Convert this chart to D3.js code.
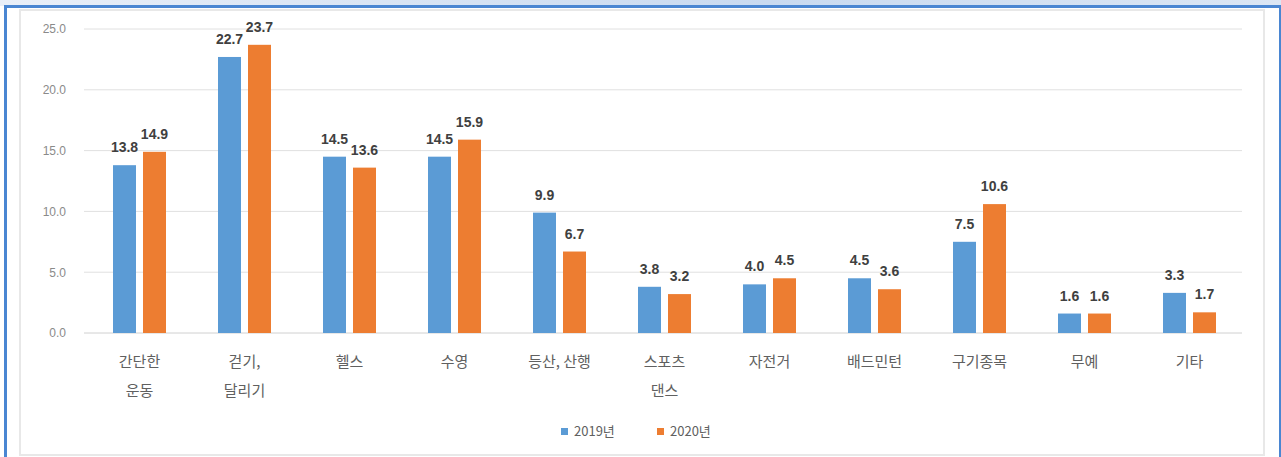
<!DOCTYPE html>
<html>
<head>
<meta charset="utf-8">
<script src="https://cdn.jsdelivr.net/npm/d3@7"></script>
<style>
  html, body { margin: 0; padding: 0; background: #fff; }
  svg { display: block; }
</style>
</head>
<body>
<svg id="chart" width="1281" height="457"></svg>
<script>
const categories = [["간단한","운동"],["걷기,","달리기"],["헬스"],["수영"],["등산, 산행"],["스포츠","댄스"],["자전거"],["배드민턴"],["구기종목"],["무예"],["기타"]];
const seriesNames = ["2019년","2020년"];
const values2019 = [13.8, 22.7, 14.5, 14.5, 9.9, 3.8, 4.0, 4.5, 7.5, 1.6, 3.3];
const values2020 = [14.9, 23.7, 13.6, 15.9, 6.7, 3.2, 4.5, 3.6, 10.6, 1.6, 1.7];
const yTicks = [0, 5, 10, 15, 20, 25];
const colors = ["#5B9BD5", "#ED7D31"];

const svg = d3.select("#chart");
const W = 1281, H = 457;

// frame
const defs = svg.append("defs");
const grad = defs.append("linearGradient").attr("id","topg").attr("x1","0").attr("x2","1");
grad.append("stop").attr("offset","0").attr("stop-color","#e9eff8");
grad.append("stop").attr("offset","0.6").attr("stop-color","#c9daf0");
grad.append("stop").attr("offset","1").attr("stop-color","#dbe6f4");
svg.append("rect").attr("x",0).attr("y",0).attr("width",W).attr("height",6).attr("fill","url(#topg)");
svg.append("rect").attr("x",4).attr("y",5).attr("width",W-4).attr("height",3).attr("fill","#4a86d2");
svg.append("rect").attr("x",4).attr("y",5).attr("width",3).attr("height",H-5).attr("fill","#4a86d2");
svg.append("rect").attr("x",W-2).attr("y",5).attr("width",2).attr("height",H-5).attr("fill","#4a86d2");
svg.append("rect").attr("x",20).attr("y",10).attr("width",1244).attr("height",445)
  .attr("fill","none").attr("stroke","#e8e8e8").attr("stroke-width",2);

const x0 = d3.scaleBand().domain(d3.range(categories.length)).range([87, 1242]);
const x1 = d3.scaleBand().domain(seriesNames).range([0, x0.bandwidth()])
  .paddingInner(7/30).paddingOuter(0.867);
const y = d3.scaleLinear().domain([0, 25]).range([333, 29]);

// gridlines
svg.append("g").selectAll("line").data(yTicks).join("line")
  .attr("x1", 84).attr("x2", 1242)
  .attr("y1", d => y(d)).attr("y2", d => y(d))
  .attr("stroke", d => d === 0 ? "#d0d0d0" : "#e0e0e0").attr("stroke-width", 1);

// y axis
const yAxis = d3.axisLeft(y).tickValues(yTicks).tickFormat(d3.format(".1f")).tickSize(0).tickPadding(0);
const ya = svg.append("g").attr("transform","translate(66,0)").call(yAxis);
ya.select(".domain").remove();
ya.selectAll("text").attr("font-family","Liberation Sans, Arial, sans-serif")
  .attr("font-size", 12).attr("fill","#8a8a8a");

// bars
const rows = categories.map((c,i) => ({i, vals: [values2019[i], values2020[i]]}));
const groups = svg.append("g").selectAll("g").data(rows).join("g")
  .attr("transform", d => `translate(${x0(d.i)},0)`);
groups.selectAll("rect").data(d => d.vals.map((v,k) => ({v, k}))).join("rect")
  .attr("x", d => x1(seriesNames[d.k])).attr("width", x1.bandwidth())
  .attr("y", d => y(d.v)).attr("height", d => y(0) - y(d.v))
  .attr("fill", d => colors[d.k]);
groups.selectAll("text").data(d => d.vals.map((v,k) => ({v, k}))).join("text")
  .attr("x", d => x1(seriesNames[d.k]) + x1.bandwidth()/2)
  .attr("y", d => y(d.v) - 13)
  .attr("text-anchor","middle")
  .attr("font-family","Liberation Sans, Arial, sans-serif")
  .attr("font-weight","bold").attr("font-size", 14).attr("fill","#404040")
  .text(d => d3.format(".1f")(d.v));

// x labels
const xl = svg.append("g").selectAll("text").data(rows).join("text")
  .attr("x", d => x0(d.i) + x0.bandwidth()/2)
  .attr("y", 367)
  .attr("text-anchor","middle")
  .attr("font-family","Noto Sans CJK KR, sans-serif")
  .attr("font-size", 15).attr("fill","#606060");
xl.selectAll("tspan").data(d => categories[d.i]).join("tspan")
  .attr("x", function(){ return d3.select(this.parentNode).attr("x"); })
  .attr("dy", (d,j) => j === 0 ? 0 : 29)
  .text(d => d);

// legend
const legendX = [561, 657];
const lg = svg.append("g").selectAll("g").data(seriesNames).join("g")
  .attr("transform", (d,i) => `translate(${legendX[i]},428)`);
lg.append("rect").attr("width",7).attr("height",7).attr("fill",(d,i)=>colors[i]);
lg.append("text").attr("x",13).attr("y",8)
  .attr("font-family","Noto Sans CJK KR, sans-serif")
  .attr("font-size",13).attr("fill","#606060").text(d => d);
</script>
</body>
</html>
